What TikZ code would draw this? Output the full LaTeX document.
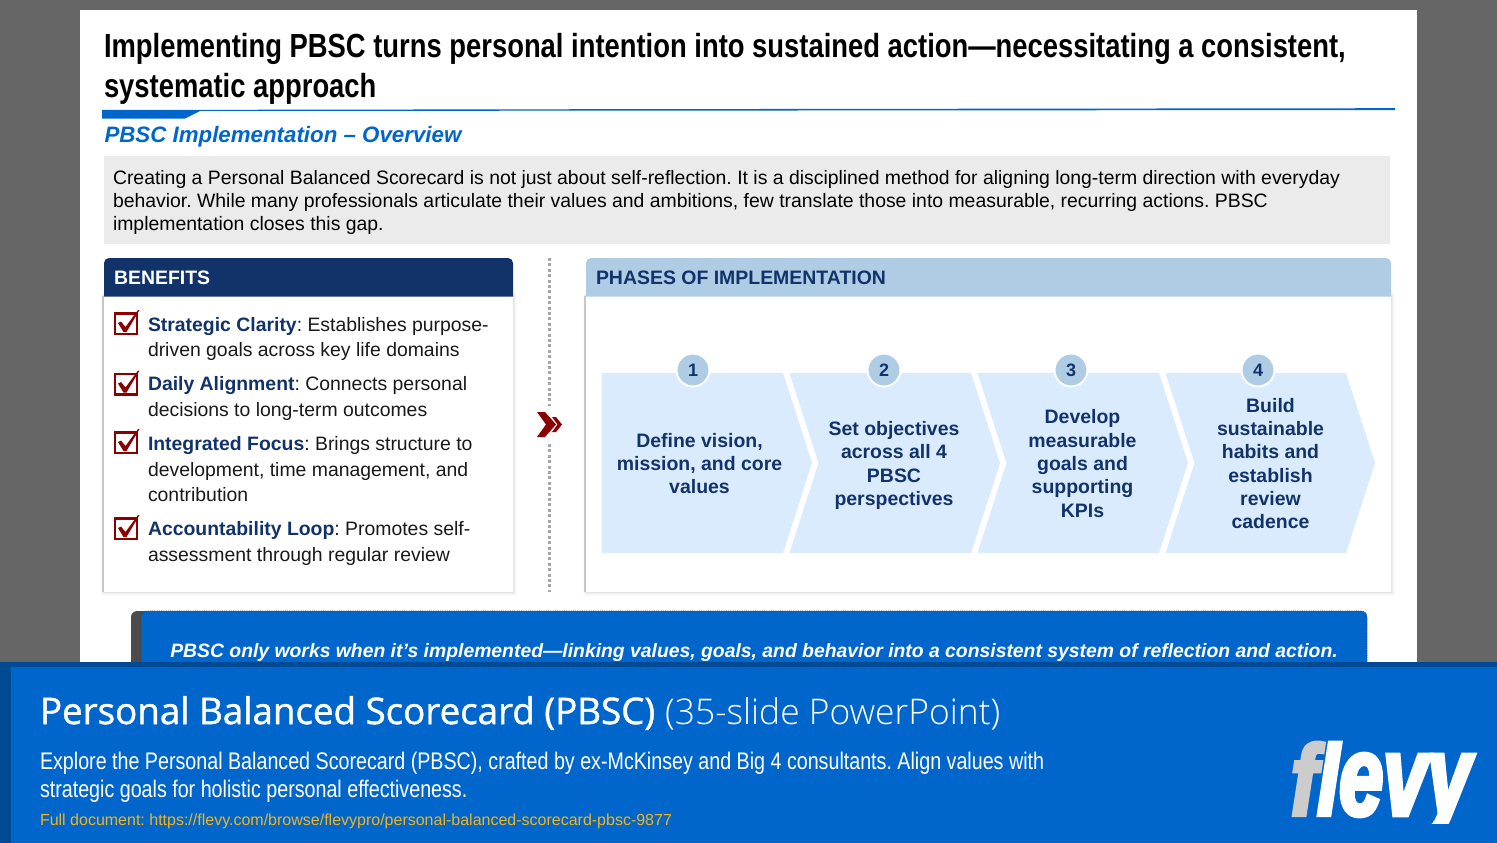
\documentclass[tikz,border=0pt]{standalone}
\usepackage{fontspec}
\setmainfont{Liberation Sans}
\newfontfamily\narrowf[FakeStretch=0.82]{Liberation Sans}
\newfontfamily\openf{Open Sans}
\newfontface\openl{Open Sans Light}
\newfontface\opensb[FakeBold=1.2]{Open Sans}
\newfontface\logof[FakeStretch=0.79,FakeBold=4]{Liberation Sans Bold Italic}
\frenchspacing
\definecolor{pagegray}{HTML}{666666}
\definecolor{fevyblue}{HTML}{0066CC}
\definecolor{darkband}{HTML}{004A94}
\definecolor{navy}{HTML}{12336A}
\definecolor{lightblue}{HTML}{AECCE4}
\definecolor{paleblue}{HTML}{D9EBFC}
\definecolor{darkred}{HTML}{8B0000}
\definecolor{softgray}{HTML}{EBEBEB}
\definecolor{linkgold}{HTML}{F0B41E}
\newcommand{\fsz}[2]{\fontsize{#1}{#2}\selectfont}
\tikzset{
  txt/.style={inner sep=0pt,outer sep=0pt,anchor=west,align=left},
  ctr/.style={inner sep=0pt,outer sep=0pt,anchor=center,align=center},
  chev/.style={fill=paleblue},
  numc/.style={circle,fill=lightblue,draw=white,line width=2pt,minimum size=33pt,inner sep=0pt,text=navy,font=\bfseries\fsz{18}{20}},
  chevtxt/.style={ctr,text=navy,font=\bfseries\fsz{19.45}{23.3}},
  bentxt/.style={txt,text=black!90,font=\fsz{19.4}{25.5}},
}
\newcommand{\softedge}[4]{%
  \foreach \w/\o in {7/.015,5/.02,3/.03,1.5/.04}{\draw[black,opacity=\o,line width=\w pt] (#1,#2) rectangle (#3,#4);}
  \fill[black!22] (#1-2,#2) rectangle (#1,#4);
  \fill[white] (#1,#2) rectangle (#3,#4);}
\newcommand{\checkbox}[1]{%
  \begin{scope}[yshift=-#1 pt]
    \draw[darkred,line width=2.2pt,fill=white] (115,1.5) rectangle (137,22);
    \fill[darkred] (118,11) -- (121,9.5) -- (125.5,15) -- (138,-2) -- (139.5,-2) -- (126.5,20) -- (123.5,20) -- cycle;
  \end{scope}}
\begin{document}
\begin{tikzpicture}[x=1pt,y=-1pt]
\useasboundingbox (0,0) rectangle (1497,843);
\fill[pagegray] (0,0) rectangle (1497,843);
\fill[white] (80,10) rectangle (1417,843);
% title
\node[txt,font=\narrowf\bfseries\fsz{33.4}{40}] (title) at (104,69) {Implementing PBSC turns personal intention into sustained action—necessitating a consistent,\\systematic approach};
% rule
\fill[fevyblue] (102,110) -- (102,118.5) -- (185,118.5) -- (200,111) -- (1395,110) -- (1395,108.2) -- (600,109.2) -- cycle;
\node[txt,text=fevyblue,font=\bfseries\itshape\fsz{22.3}{26}] (sub) at (104.5,136.5) {PBSC Implementation – Overview};
% intro
\fill[softgray] (104,156) rectangle (1390,243.5);
\node[txt,font=\fsz{19.4}{23}] (intro) at (113,202.5) {Creating a Personal Balanced Scorecard is not just about self-reflection. It is a disciplined method for aligning long-term direction with everyday\\behavior. While many professionals articulate their values and ambitions, few translate those into measurable, recurring actions. PBSC\\implementation closes this gap.};
% benefits panel
\softedge{104}{296}{513}{592}
\fill[navy,rounded corners=5pt] (104,296.5) -- (104,258) -- (513,258) -- (513,296.5);
\node[txt,text=white,font=\bfseries\fsz{19.45}{24}] (bhead) at (114,277.5) {BENEFITS};
\checkbox{312}
\checkbox{372.5}
\checkbox{431}
\checkbox{517}
\node[bentxt] (b1) at (148,339) {\textcolor{navy}{\bfseries Strategic Clarity}: Establishes purpose-\\driven goals across key life domains};
\node[bentxt] (b2) at (148,398.5) {\textcolor{navy}{\bfseries Daily Alignment}: Connects personal\\decisions to long-term outcomes};
\node[bentxt] (b3) at (148,469.3) {\textcolor{navy}{\bfseries Integrated Focus}: Brings structure to\\development, time management, and\\contribution};
\node[bentxt] (b4) at (148,543.5) {\textcolor{navy}{\bfseries Accountability Loop}: Promotes self-\\assessment through regular review};
% divider
\coordinate (d1) at (549,258);
\coordinate (d2) at (549,406);
\coordinate (d3) at (549,444);
\coordinate (d4) at (549,592);
\draw[black!35,line width=3pt,dash pattern=on 3pt off 2.4pt] (d1) -- (d2);
\draw[black!35,line width=3pt,dash pattern=on 3pt off 2.4pt] (d3) -- (d4);
\fill[darkred] (537,412) -- (545,412) -- (556,424.5) -- (545,437) -- (537,437) -- (546,424.5) -- cycle;
\fill[darkred] (552,417) -- (556,417) -- (562,424.5) -- (556,432) -- (552,432) -- (557.5,424.5) -- cycle;
% phases panel
\softedge{586}{296}{1391}{592}
\fill[lightblue,rounded corners=5pt] (586,296.5) -- (586,258) -- (1391,258) -- (1391,296.5);
\node[txt,text=navy,font=\bfseries\fsz{19.45}{24}] (phead) at (596,277.5) {PHASES OF IMPLEMENTATION};
% chevrons
\fill[chev] (601.5,373) -- (783,373) -- (812,463) -- (783,553) -- (601.5,553) -- cycle;
\fill[chev] (789.5,373) -- (971,373) -- (1000,463) -- (971,553) -- (789.5,553) -- (818.5,463) -- cycle;
\fill[chev] (977.5,373) -- (1159,373) -- (1188,463) -- (1159,553) -- (977.5,553) -- (1006.5,463) -- cycle;
\fill[chev] (1165.5,373) -- (1346,373) -- (1375,463) -- (1346,553) -- (1165.5,553) -- (1194.5,463) -- cycle;
\node[numc] (n1) at (693,370) {1};
\node[numc] (n2) at (884,370) {2};
\node[numc] (n3) at (1071,370) {3};
\node[numc] (n4) at (1258,370) {4};
\node[chevtxt] (c1) at (699.5,463.5) {Define vision,\\mission, and core\\values};
\node[chevtxt] (c2) at (894,465.5) {Set objectives\\across all 4\\PBSC\\perspectives};
\node[chevtxt] (c3) at (1082.5,463.5) {Develop\\measurable\\goals and\\supporting\\KPIs};
\node[chevtxt] (c4) at (1270.5,463.5) {Build\\sustainable\\habits and\\establish\\review\\cadence};
% callout
\fill[black!70,rounded corners=6pt] (131,680) -- (131,611) -- (160,611) -- (160,680);
\draw[fill=fevyblue,draw=black!75,densely dotted,line width=.8pt,rounded corners=6pt] (141,680) -- (141,611) -- (1367,611) -- (1367,680);
\node[ctr,text=white,font=\bfseries\itshape\fsz{19.35}{24}] (call) at (754,652.5) {PBSC only works when it’s implemented—linking values, goals, and behavior into a consistent system of reflection and action.};
% footer
\fill[darkband] (0,662) rectangle (1497,843);
\fill[fevyblue] (11,667) rectangle (1497,843);
\node[txt,text=white,font=\fsz{36}{42}] (ftitle) at (40,713) {{\opensb\fsz{36.7}{42}Personal Balanced Scorecard (PBSC)} {\openl\fsz{35.4}{42}(35-slide PowerPoint)}};
\node[txt,text=white,font=\narrowf\fsz{24}{28}] (fdesc) at (40,777) {Explore the Personal Balanced Scorecard (PBSC), crafted by ex-McKinsey and Big 4 consultants. Align values with\\strategic goals for holistic personal effectiveness.};
\node[txt,text=linkgold,font=\fsz{16}{20}] (flink) at (40,821) {Full document: https://flevy.com/browse/flevypro/personal-balanced-scorecard-pbsc-9877};
\begin{scope}
\clip (1280,730) rectangle (1497,823);
\node[inner sep=0pt,outer sep=0pt,anchor=base west,text=white] (logo) at (1291,815) {\logof\fsz{100}{100}\textcolor{black!20}{f}l\scalebox{1}[1.136]{evy}};
\end{scope}
\end{tikzpicture}
\end{document}
